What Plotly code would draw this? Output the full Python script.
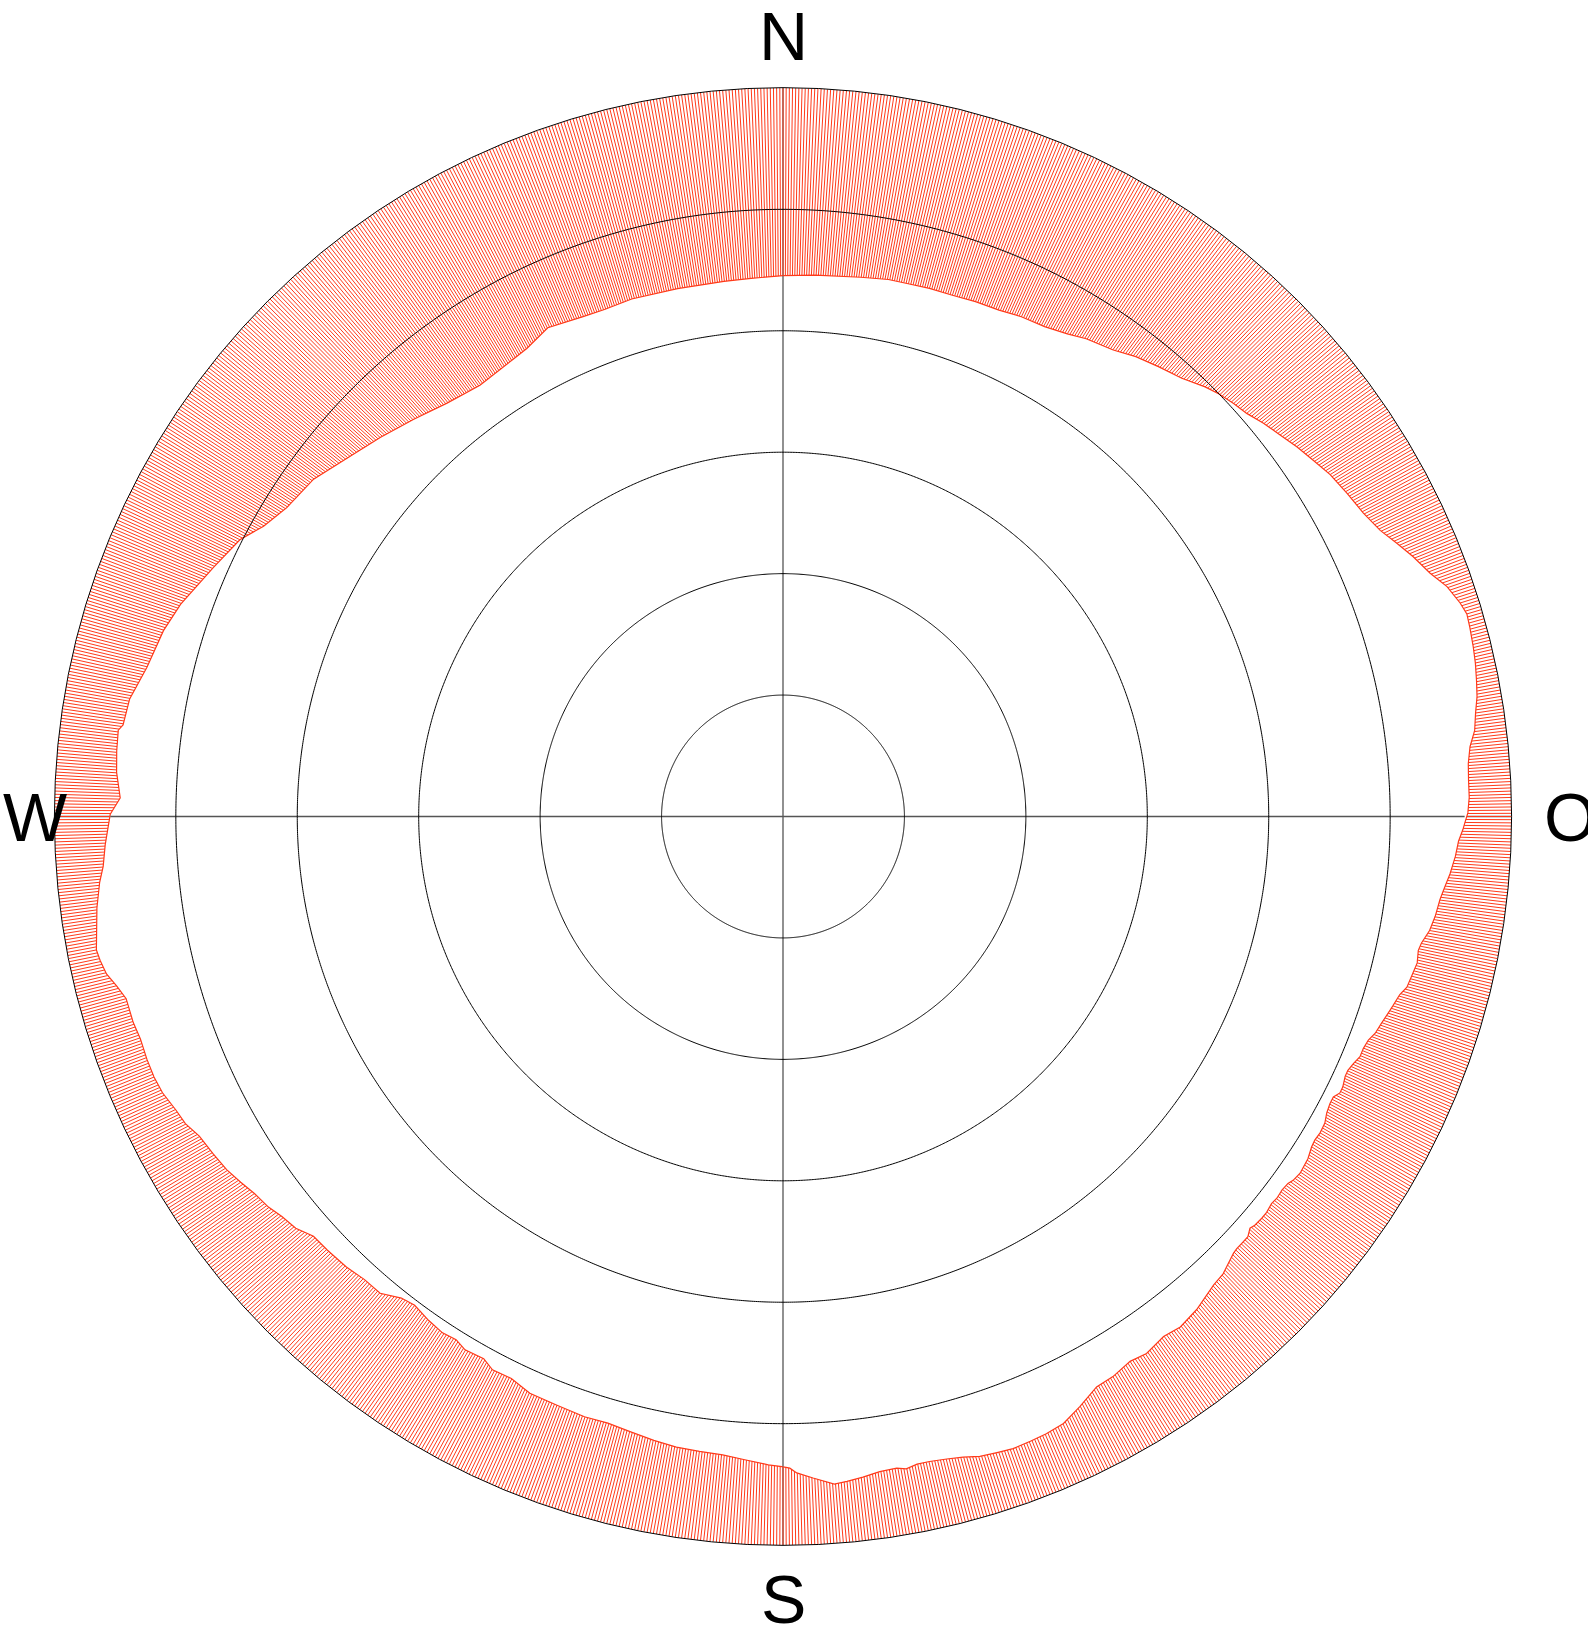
import numpy as np
import plotly.graph_objects as go

# Horizon profile: azimuth (deg, clockwise from north) and horizon elevation (deg)
azimuth_deg = [
    0.0, 3.4, 8.2, 11.1, 13.1, 15.5, 18.0, 20.5, 23.1, 25.5, 28.1, 30.5, 32.4, 35.3, 37.5, 39.9,
    42.3, 44.5, 45.9, 47.5, 49.0, 50.7, 52.5, 54.3, 56.1, 58.0, 60.2, 62.4, 64.4, 66.0, 67.6, 69.4,
    70.9, 72.5, 73.5, 74.6, 76.2, 77.5, 78.9, 80.2, 81.5, 82.9, 84.2, 85.6, 87.0, 88.4, 89.7, 90.6,
    91.1, 92.1, 93.4, 94.9, 96.1, 97.2, 98.7, 100.0, 101.2, 101.9, 103.0, 104.3, 105.3, 106.1, 107.2, 108.0,
    109.1, 110.1, 110.9, 111.8, 112.6, 113.4, 114.2, 114.8, 115.8, 116.4, 117.0, 117.7, 118.6, 119.5, 120.5, 121.3,
    122.0, 123.1, 124.6, 125.5, 126.0, 126.8, 127.7, 128.4, 129.3, 130.0, 130.9, 131.4, 132.1, 132.9, 133.6, 134.1,
    134.8, 136.1, 137.4, 140.0, 142.1, 143.8, 145.9, 147.5, 149.5, 151.2, 153.3, 155.2, 156.9, 158.4, 160.0, 161.4,
    162.9, 164.3, 165.7, 167.2, 168.3, 169.3, 170.1, 171.6, 173.1, 174.5, 175.6, 177.4, 178.8, 179.4, 180.1, 181.3,
    183.4, 185.4, 187.5, 189.6, 191.7, 193.9, 196.1, 198.3, 201.0, 203.7, 205.8, 207.7, 208.9, 210.8, 212.0, 213.4,
    215.1, 217.0, 218.4, 220.2, 222.1, 224.1, 226.4, 228.2, 229.8, 231.4, 232.8, 234.5, 236.0, 237.6, 239.4, 241.3,
    242.8, 244.2, 246.0, 247.5, 249.1, 250.9, 252.4, 254.5, 255.7, 256.9, 258.1, 259.0, 262.4, 264.5, 265.8, 267.6,
    270.2, 271.6, 273.8, 275.6, 277.4, 277.9, 280.2, 283.2, 286.7, 289.4, 293.6, 297.0, 299.2, 301.9, 305.7, 309.4,
    313.3, 317.1, 320.9, 324.9, 329.5, 331.3, 334.3, 338.2, 340.6, 343.7, 348.7, 353.7, 356.6,
]
horizon_elev_deg = [
    23.2, 23.0, 22.7, 22.4, 22.4, 22.3, 22.3, 22.1, 22.0, 21.6, 21.4, 20.8, 20.1, 19.4, 18.4, 17.6,
    16.8, 15.6, 15.0, 14.5, 14.1, 13.3, 12.6, 11.8, 11.1, 10.3, 9.7, 9.1, 8.2, 7.0, 5.8, 4.6,
    3.2, 2.3, 1.9, 2.0, 2.2, 2.4, 2.7, 3.0, 3.5, 3.9, 4.7, 5.1, 5.2, 5.2, 5.4, 5.8,
    6.0, 6.5, 6.8, 7.3, 7.8, 8.2, 8.5, 8.9, 9.6, 9.8, 9.6, 9.9, 10.1, 10.7, 11.1, 11.4,
    11.8, 12.1, 12.6, 12.8, 12.8, 13.2, 13.5, 13.5, 13.2, 13.2, 13.7, 13.7, 13.5, 13.1, 13.0, 13.1,
    13.0, 12.6, 12.4, 12.6, 12.9, 13.0, 12.9, 13.0, 12.8, 12.8, 12.9, 13.1, 12.6, 12.6, 12.6, 12.5,
    12.2, 11.6, 11.4, 10.5, 10.1, 10.4, 9.9, 10.2, 9.7, 9.6, 8.4, 7.4, 7.1, 7.0, 6.9, 7.1,
    7.3, 7.8, 8.1, 8.3, 8.3, 8.0, 8.3, 8.2, 7.8, 7.5, 7.3, 8.2, 8.9, 9.5, 9.7, 9.9,
    10.4, 10.8, 10.9, 11.0, 11.3, 11.7, 12.0, 11.9, 12.1, 12.2, 12.9, 12.8, 13.5, 13.3, 13.8, 13.6,
    13.9, 14.4, 14.1, 12.9, 12.9, 12.5, 12.3, 12.2, 11.2, 10.8, 10.2, 9.8, 9.2, 8.6, 8.2, 7.8,
    7.0, 6.7, 6.1, 5.9, 5.9, 6.0, 5.8, 5.8, 5.1, 4.2, 3.8, 3.6, 4.5, 5.2, 5.8, 6.2,
    6.9, 8.1, 7.5, 7.3, 7.2, 7.7, 8.0, 9.3, 10.1, 11.1, 13.2, 14.7, 16.5, 17.8, 18.6, 20.3,
    21.7, 23.0, 24.2, 24.9, 24.4, 24.1, 23.0, 23.5, 23.6, 23.4, 23.5, 23.5, 23.4,
]

# Grid (elevation circles) and compass labels
grid_elev_deg = [15, 30, 45, 60, 75]
compass_labels = ["N", "O", "S", "W"]

# ---- styling constants ----
W, H = 1588, 1628
CX, CY, RPX = 783.0, 816.5, 728.6
RED = "#ff3a1a"
HATCH_STEP = 0.25
R_MAX = 90.0

fig = go.Figure()

# Cross hair (N-S, W-O), drawn below the hatch
fig.add_trace(go.Scatterpolar(r=[R_MAX, R_MAX, None, R_MAX, R_MAX],
                              theta=[0, 180, None, 90, 270], mode="lines",
                              line=dict(color="#555555", width=1.3), hoverinfo="skip"))

# Hatch: radial red lines over the whole band, later masked inside the horizon
ht_r, ht_t = [], []
for t in np.arange(0.0, 360.0, HATCH_STEP):
    ht_r += [40.0, R_MAX, None]
    ht_t += [t, t, None]
fig.add_trace(go.Scatterpolar(r=ht_r, theta=ht_t, mode="lines",
                              line=dict(color=RED, width=1), hoverinfo="skip"))

# White mask = sky area inside the horizon line, with red outline
mask_r = [R_MAX - e for e in horizon_elev_deg] + [R_MAX - horizon_elev_deg[0]]
mask_t = list(azimuth_deg) + [azimuth_deg[0]]
fig.add_trace(go.Scatterpolar(r=mask_r, theta=mask_t, mode="lines", fill="toself",
                              fillcolor="white", line=dict(color=RED, width=1.2),
                              hoverinfo="skip"))

# Cross hair inside the sky area (visible over the white mask)
fig.add_trace(go.Scatterpolar(r=[R_MAX - horizon_elev_deg[0], R_MAX - horizon_elev_deg[azimuth_deg.index(180.1)], None,
                                 R_MAX - horizon_elev_deg[azimuth_deg.index(90.6)], R_MAX - horizon_elev_deg[azimuth_deg.index(270.2)]],
                              theta=[0, 180, None, 90, 270], mode="lines",
                              line=dict(color="#555555", width=1.3), hoverinfo="skip"))

# Elevation circles
circ_t = np.linspace(0, 360, 1441)
gr, gt = [], []
for e in grid_elev_deg:
    gr += [R_MAX - e] * len(circ_t) + [None]
    gt += list(circ_t) + [None]
fig.add_trace(go.Scatterpolar(r=gr, theta=gt, mode="lines",
                              line=dict(color="black", width=1), hoverinfo="skip"))

dx0 = (CX - RPX) / W
dx1 = (CX + RPX) / W
dy0 = 1 - (CY + RPX) / H
dy1 = 1 - (CY - RPX) / H

fig.update_layout(
    width=W, height=H,
    margin=dict(l=0, r=0, t=0, b=0),
    paper_bgcolor="white",
    showlegend=False,
    polar=dict(
        domain=dict(x=[dx0, dx1], y=[dy0, dy1]),
        bgcolor="white",
        radialaxis=dict(range=[0, R_MAX], showgrid=False, showline=False,
                        showticklabels=False, ticks=""),
        angularaxis=dict(rotation=90, direction="clockwise", showgrid=False,
                         showticklabels=False, ticks="", showline=True,
                         linecolor="black", linewidth=1),
    ),
)

# Compass labels placed just outside the horizon circle (pixel positions)
label_pos = {"N": (783, 36), "O": (1570, 817), "S": (783, 1599), "W": (34.5, 817)}
for lab in compass_labels:
    px, py = label_pos[lab]
    fig.add_annotation(x=px / W, y=1 - py / H, xref="paper", yref="paper",
                       text=lab, showarrow=False, xanchor="center", yanchor="middle",
                       font=dict(family="Liberation Sans, Arial, sans-serif", size=68,
                                 color="black"))

# remove the default page margin so the figure fills the window from (0, 0)
fig.write_html("out.html",
               config={"displayModeBar": False},
               post_script="document.body.style.margin='0';document.body.style.overflow='hidden';")
